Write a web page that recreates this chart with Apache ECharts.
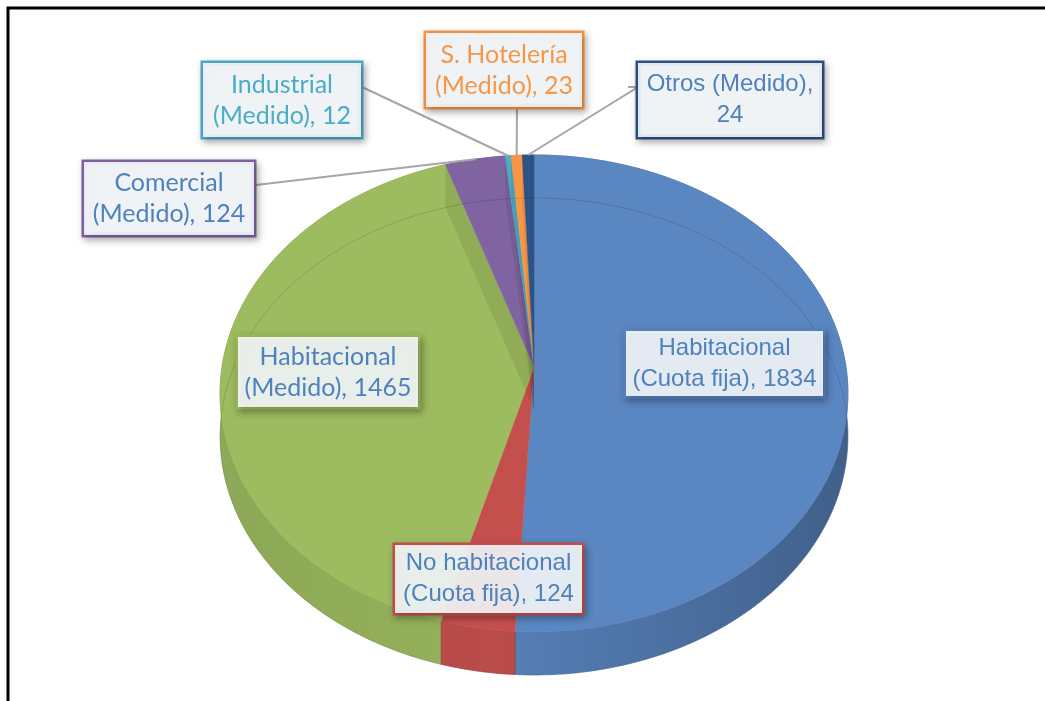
<!DOCTYPE html>
<html>
<head>
<meta charset="utf-8">
<script src="https://cdn.jsdelivr.net/npm/echarts@6/dist/echarts.min.js"></script>
<style>
html, body { margin: 0; padding: 0; background: #fff; }
#chart { width: 1045px; height: 701px; }
</style>
</head>
<body>
<div id="chart"></div>
<script>
// datos
const categories = [
  "Habitacional (Cuota fija)",
  "No habitacional (Cuota fija)",
  "Habitacional (Medido)",
  "Comercial (Medido)",
  "Industrial (Medido)",
  "S. Hotelería (Medido)",
  "Otros (Medido)"
]
const values = [1834, 124, 1465, 124, 12, 23, 24]
const sliceColors = ["#5a86c1", "#c4504d", "#9dbb5f", "#8064a2", "#4bacc6", "#f79646", "#2c5286"]

// donde se corta la etiqueta en dos lineas
const labelBreak = ["name", "name", "name", "name", "name", "name", "value"]

// caja de cada etiqueta (centro, tamaño) y su texto
const labelLayout = [
  { x: 724.5, y: 363.5, w: 197, h: 65, font: "Liberation Sans", size: 24, color: "#4f81bd" },
  { x: 488.5, y: 579, w: 187, h: 68, font: "Liberation Sans", size: 24, color: "#4f81bd" },
  { x: 328, y: 372, w: 180, h: 70, font: "Lato", size: 25, color: "#4f81bd" },
  { x: 169, y: 198.5, w: 170, h: 73, font: "Lato", size: 25, color: "#4f81bd" },
  { x: 282, y: 100, w: 158, h: 74, font: "Lato", size: 25, color: "#4bacc6" },
  { x: 504, y: 70, w: 156, h: 74, font: "Lato", size: 25, color: "#f79646" },
  { x: 730, y: 100, w: 184, h: 74, font: "Liberation Sans", size: 24, color: "#4f81bd" }
]
// puntos de la linea guia desde la caja (null = sin linea)
const leaderPoints = [null, null, null, [[256, 185]], [[362, 87]], [[517, 108]], [[638, 87], [628, 87]]]

const total = values.reduce((a, b) => a + b, 0)
const starts = []
let acc = 0
values.forEach((v) => {
  starts.push(acc)
  acc += v
})

// geometria del pastel en perspectiva
const CX = 534
const AY = 367
const RX = 312
const RB = 235.6
const K = -0.111
const DEPTH = 43
const TAU = Math.PI * 2

function proj(theta, r) {
  const u = r * Math.sin(theta)
  const v = -r * Math.cos(theta)
  const d = 1 + K * v
  return [CX + (RX * u) / d, AY + (RB * v) / d]
}

function arcPoints(a0, a1, r) {
  const n = Math.max(2, Math.ceil((a1 - a0) / (Math.PI / 180)))
  const pts = []
  for (let i = 0; i <= n; i++) pts.push(proj(a0 + ((a1 - a0) * i) / n, r))
  return pts
}

function shade(hex, f) {
  const n = parseInt(hex.slice(1), 16)
  const r = Math.min(255, Math.round(((n >> 16) & 255) * f))
  const g = Math.min(255, Math.round(((n >> 8) & 255) * f))
  const b = Math.min(255, Math.round((n & 255) * f))
  return `rgb(${r},${g},${b})`
}

function angles(api) {
  const s = api.value(1)
  const v = api.value(0)
  return [(s / total) * TAU, ((s + v) / total) * TAU]
}

function labelText(i) {
  if (labelBreak[i] === "value") return categories[i] + ",\n" + values[i]
  return categories[i].replace(" (", "\n(") + ", " + values[i]
}

const seriesData = values.map((v, i) => [v, starts[i]])

function renderSide(params, api) {
  const c = sliceColors[params.dataIndex]
  const [a0, a1] = angles(api)
  const top = arcPoints(a0, a1, 1)
  const bottom = top.map((p) => [p[0], p[1] + DEPTH]).reverse()
  return {
    type: "polygon",
    shape: { points: top.concat(bottom) },
    style: {
      fill: {
        type: "linear",
        global: true,
        x: CX - RX,
        y: 0,
        x2: CX + RX,
        y2: 0,
        colorStops: [
          { offset: 0, color: shade(c, 0.9) },
          { offset: 0.45, color: shade(c, 0.95) },
          { offset: 1, color: shade(c, 0.72) }
        ]
      },
      stroke: shade(c, 0.72),
      lineWidth: 0.6
    }
  }
}

function renderTop(params, api) {
  const c = sliceColors[params.dataIndex]
  const [a0, a1] = angles(api)
  const apex = proj(0, 0)
  const pts = [apex].concat(arcPoints(a0, a1, 1))
  const children = [
    {
      type: "polygon",
      shape: { points: pts },
      style: { fill: c, stroke: c, lineWidth: 0.5 }
    }
  ]
  // cara de corte trasera, vista a traves de la tapa
  if (a1 > (TAU * 3) / 4 && a1 < TAU - 0.01) {
    const rim = proj(a1, 1)
    children.push({
      type: "polygon",
      shape: { points: [apex, rim, [rim[0], rim[1] + DEPTH], [apex[0], apex[1] + DEPTH]] },
      style: { fill: "rgba(0,0,0,0.08)" }
    })
  }
  // borde inferior trasero visto a traves de la cara
  const back = arcPoints(a0, a1, 1).filter((p, k, arr) => {
    const t = a0 + ((a1 - a0) * k) / (arr.length - 1)
    return -Math.cos(t) < 0.05
  })
  if (back.length > 1) {
    children.push({
      type: "polyline",
      shape: { points: back.map((p) => [p[0], p[1] + DEPTH]) },
      style: { stroke: "rgba(0,0,0,0.13)", lineWidth: 1, fill: null }
    })
  }
  return { type: "group", children }
}

function renderLabel(params, api) {
  const i = params.dataIndex
  const L = labelLayout[i]
  const [a0, a1] = angles(api)
  const children = []
  if (leaderPoints[i]) {
    const pts = leaderPoints[i].slice().reverse()
    pts.push(proj((a0 + a1) / 2, 1))
    children.push({
      type: "polyline",
      shape: { points: pts.reverse() },
      style: { stroke: "#a6a6a6", lineWidth: 2, fill: null }
    })
  }
  children.push({
    type: "text",
    x: L.x,
    y: L.y,
    style: {
      text: labelText(i),
      align: "center",
      verticalAlign: "middle",
      fontFamily: L.font,
      fontSize: L.size,
      lineHeight: 31,
      fill: L.color,
      width: L.w,
      padding: [(L.h - 62) / 2, 0],
      backgroundColor: "rgba(245,248,252,0.9)",
      borderColor: sliceColors[i],
      borderWidth: 2.5,
      shadowBlur: 7,
      shadowColor: "rgba(0,0,0,0.28)",
      shadowOffsetX: 2,
      shadowOffsetY: 3
    }
  })
  return { type: "group", children }
}

const chart = echarts.init(document.getElementById("chart"))
chart.setOption({
  animation: false,
  graphic: [
    {
      type: "polyline",
      shape: { points: [[8, 701], [8, 8], [1045, 8]] },
      style: { stroke: "#000", lineWidth: 3, fill: null }
    }
  ],
  series: [
    { type: "custom", coordinateSystem: "none", z: 1, data: seriesData, renderItem: renderSide },
    { type: "custom", coordinateSystem: "none", z: 2, data: seriesData, renderItem: renderTop },
    { type: "custom", coordinateSystem: "none", z: 3, data: seriesData, renderItem: renderLabel }
  ]
})
</script>
</body>
</html>
